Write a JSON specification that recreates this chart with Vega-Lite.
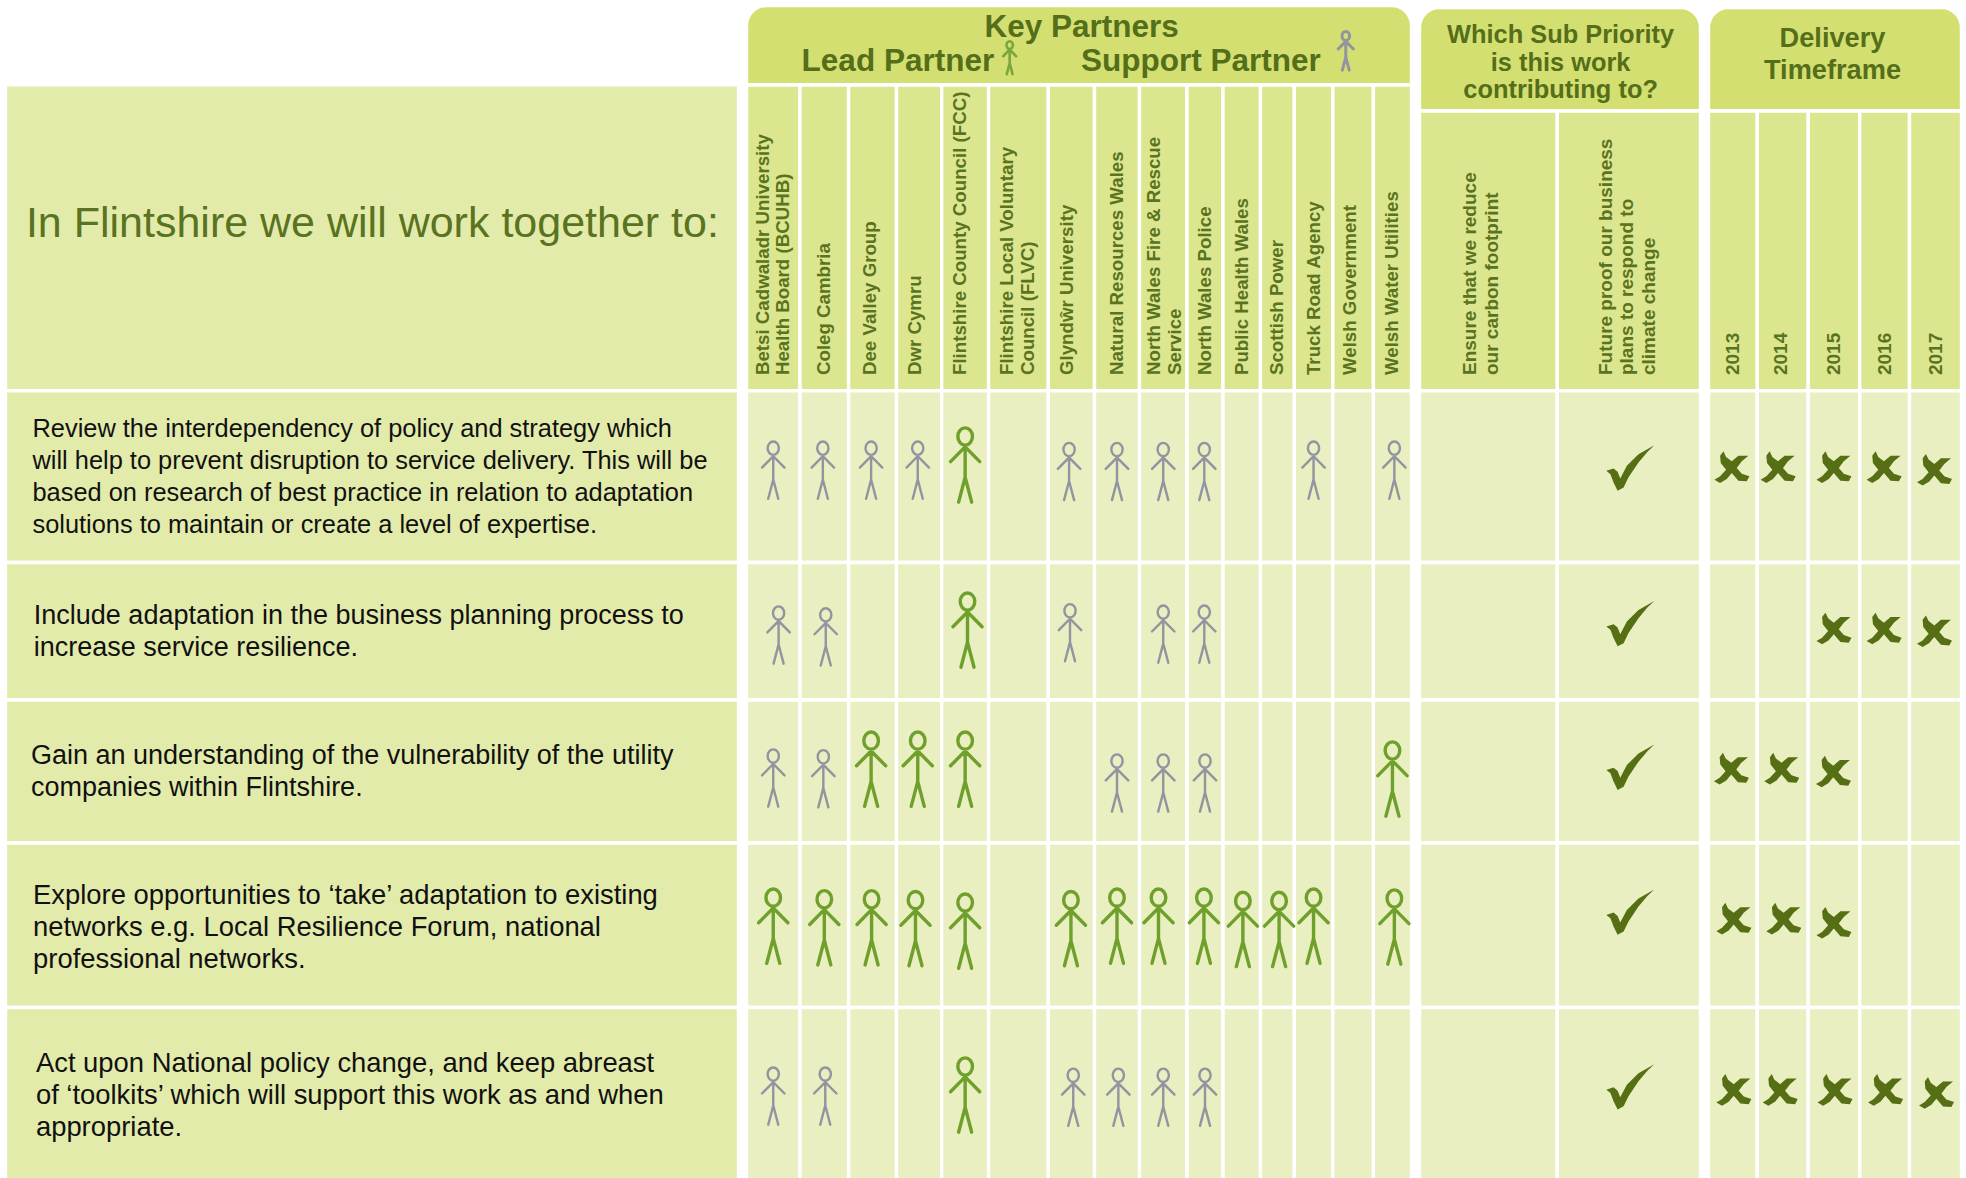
{
"$schema":"https://vega.github.io/schema/vega-lite/v6.json",
"width":1966,"height":1178,"padding":0,"autosize":{"type":"none"},
"background":"white","view":{"stroke":null},
"config":{"font":"Liberation Sans"},
"datasets":{
"cells":[
{"x":0,"x2":1,"y":2,"y2":4,"k":"left"},{"x":0,"x2":1,"y":4,"y2":5,"k":"left"},{"x":0,"x2":1,"y":5,"y2":6,"k":"left"},{"x":0,"x2":1,"y":6,"y2":7,"k":"left"},{"x":0,"x2":1,"y":7,"y2":8,"k":"left"},{"x":0,"x2":1,"y":8,"y2":9,"k":"left"},
{"x":2,"x2":3,"y":2,"y2":4,"k":"head"},{"x":3,"x2":4,"y":2,"y2":4,"k":"head"},{"x":4,"x2":5,"y":2,"y2":4,"k":"head"},{"x":5,"x2":6,"y":2,"y2":4,"k":"head"},{"x":6,"x2":7,"y":2,"y2":4,"k":"head"},{"x":7,"x2":8,"y":2,"y2":4,"k":"head"},{"x":8,"x2":9,"y":2,"y2":4,"k":"head"},{"x":9,"x2":10,"y":2,"y2":4,"k":"head"},{"x":10,"x2":11,"y":2,"y2":4,"k":"head"},{"x":11,"x2":12,"y":2,"y2":4,"k":"head"},{"x":12,"x2":13,"y":2,"y2":4,"k":"head"},{"x":13,"x2":14,"y":2,"y2":4,"k":"head"},{"x":14,"x2":15,"y":2,"y2":4,"k":"head"},{"x":15,"x2":16,"y":2,"y2":4,"k":"head"},{"x":16,"x2":17,"y":2,"y2":4,"k":"head"},
{"x":18,"x2":19,"y":3,"y2":4,"k":"head"},{"x":19,"x2":20,"y":3,"y2":4,"k":"head"},{"x":21,"x2":22,"y":3,"y2":4,"k":"head"},{"x":22,"x2":23,"y":3,"y2":4,"k":"head"},{"x":23,"x2":24,"y":3,"y2":4,"k":"head"},{"x":24,"x2":25,"y":3,"y2":4,"k":"head"},{"x":25,"x2":26,"y":3,"y2":4,"k":"head"},
{"x":2,"x2":3,"y":4,"y2":5,"k":"body"},{"x":3,"x2":4,"y":4,"y2":5,"k":"body"},{"x":4,"x2":5,"y":4,"y2":5,"k":"body"},{"x":5,"x2":6,"y":4,"y2":5,"k":"body"},{"x":6,"x2":7,"y":4,"y2":5,"k":"body"},{"x":7,"x2":8,"y":4,"y2":5,"k":"body"},{"x":8,"x2":9,"y":4,"y2":5,"k":"body"},{"x":9,"x2":10,"y":4,"y2":5,"k":"body"},{"x":10,"x2":11,"y":4,"y2":5,"k":"body"},{"x":11,"x2":12,"y":4,"y2":5,"k":"body"},{"x":12,"x2":13,"y":4,"y2":5,"k":"body"},{"x":13,"x2":14,"y":4,"y2":5,"k":"body"},{"x":14,"x2":15,"y":4,"y2":5,"k":"body"},{"x":15,"x2":16,"y":4,"y2":5,"k":"body"},{"x":16,"x2":17,"y":4,"y2":5,"k":"body"},{"x":18,"x2":19,"y":4,"y2":5,"k":"body"},{"x":19,"x2":20,"y":4,"y2":5,"k":"body"},{"x":21,"x2":22,"y":4,"y2":5,"k":"body"},{"x":22,"x2":23,"y":4,"y2":5,"k":"body"},{"x":23,"x2":24,"y":4,"y2":5,"k":"body"},{"x":24,"x2":25,"y":4,"y2":5,"k":"body"},{"x":25,"x2":26,"y":4,"y2":5,"k":"body"},
{"x":2,"x2":3,"y":5,"y2":6,"k":"body"},{"x":3,"x2":4,"y":5,"y2":6,"k":"body"},{"x":4,"x2":5,"y":5,"y2":6,"k":"body"},{"x":5,"x2":6,"y":5,"y2":6,"k":"body"},{"x":6,"x2":7,"y":5,"y2":6,"k":"body"},{"x":7,"x2":8,"y":5,"y2":6,"k":"body"},{"x":8,"x2":9,"y":5,"y2":6,"k":"body"},{"x":9,"x2":10,"y":5,"y2":6,"k":"body"},{"x":10,"x2":11,"y":5,"y2":6,"k":"body"},{"x":11,"x2":12,"y":5,"y2":6,"k":"body"},{"x":12,"x2":13,"y":5,"y2":6,"k":"body"},{"x":13,"x2":14,"y":5,"y2":6,"k":"body"},{"x":14,"x2":15,"y":5,"y2":6,"k":"body"},{"x":15,"x2":16,"y":5,"y2":6,"k":"body"},{"x":16,"x2":17,"y":5,"y2":6,"k":"body"},{"x":18,"x2":19,"y":5,"y2":6,"k":"body"},{"x":19,"x2":20,"y":5,"y2":6,"k":"body"},{"x":21,"x2":22,"y":5,"y2":6,"k":"body"},{"x":22,"x2":23,"y":5,"y2":6,"k":"body"},{"x":23,"x2":24,"y":5,"y2":6,"k":"body"},{"x":24,"x2":25,"y":5,"y2":6,"k":"body"},{"x":25,"x2":26,"y":5,"y2":6,"k":"body"},
{"x":2,"x2":3,"y":6,"y2":7,"k":"body"},{"x":3,"x2":4,"y":6,"y2":7,"k":"body"},{"x":4,"x2":5,"y":6,"y2":7,"k":"body"},{"x":5,"x2":6,"y":6,"y2":7,"k":"body"},{"x":6,"x2":7,"y":6,"y2":7,"k":"body"},{"x":7,"x2":8,"y":6,"y2":7,"k":"body"},{"x":8,"x2":9,"y":6,"y2":7,"k":"body"},{"x":9,"x2":10,"y":6,"y2":7,"k":"body"},{"x":10,"x2":11,"y":6,"y2":7,"k":"body"},{"x":11,"x2":12,"y":6,"y2":7,"k":"body"},{"x":12,"x2":13,"y":6,"y2":7,"k":"body"},{"x":13,"x2":14,"y":6,"y2":7,"k":"body"},{"x":14,"x2":15,"y":6,"y2":7,"k":"body"},{"x":15,"x2":16,"y":6,"y2":7,"k":"body"},{"x":16,"x2":17,"y":6,"y2":7,"k":"body"},{"x":18,"x2":19,"y":6,"y2":7,"k":"body"},{"x":19,"x2":20,"y":6,"y2":7,"k":"body"},{"x":21,"x2":22,"y":6,"y2":7,"k":"body"},{"x":22,"x2":23,"y":6,"y2":7,"k":"body"},{"x":23,"x2":24,"y":6,"y2":7,"k":"body"},{"x":24,"x2":25,"y":6,"y2":7,"k":"body"},{"x":25,"x2":26,"y":6,"y2":7,"k":"body"},
{"x":2,"x2":3,"y":7,"y2":8,"k":"body"},{"x":3,"x2":4,"y":7,"y2":8,"k":"body"},{"x":4,"x2":5,"y":7,"y2":8,"k":"body"},{"x":5,"x2":6,"y":7,"y2":8,"k":"body"},{"x":6,"x2":7,"y":7,"y2":8,"k":"body"},{"x":7,"x2":8,"y":7,"y2":8,"k":"body"},{"x":8,"x2":9,"y":7,"y2":8,"k":"body"},{"x":9,"x2":10,"y":7,"y2":8,"k":"body"},{"x":10,"x2":11,"y":7,"y2":8,"k":"body"},{"x":11,"x2":12,"y":7,"y2":8,"k":"body"},{"x":12,"x2":13,"y":7,"y2":8,"k":"body"},{"x":13,"x2":14,"y":7,"y2":8,"k":"body"},{"x":14,"x2":15,"y":7,"y2":8,"k":"body"},{"x":15,"x2":16,"y":7,"y2":8,"k":"body"},{"x":16,"x2":17,"y":7,"y2":8,"k":"body"},{"x":18,"x2":19,"y":7,"y2":8,"k":"body"},{"x":19,"x2":20,"y":7,"y2":8,"k":"body"},{"x":21,"x2":22,"y":7,"y2":8,"k":"body"},{"x":22,"x2":23,"y":7,"y2":8,"k":"body"},{"x":23,"x2":24,"y":7,"y2":8,"k":"body"},{"x":24,"x2":25,"y":7,"y2":8,"k":"body"},{"x":25,"x2":26,"y":7,"y2":8,"k":"body"},
{"x":2,"x2":3,"y":8,"y2":9,"k":"body"},{"x":3,"x2":4,"y":8,"y2":9,"k":"body"},{"x":4,"x2":5,"y":8,"y2":9,"k":"body"},{"x":5,"x2":6,"y":8,"y2":9,"k":"body"},{"x":6,"x2":7,"y":8,"y2":9,"k":"body"},{"x":7,"x2":8,"y":8,"y2":9,"k":"body"},{"x":8,"x2":9,"y":8,"y2":9,"k":"body"},{"x":9,"x2":10,"y":8,"y2":9,"k":"body"},{"x":10,"x2":11,"y":8,"y2":9,"k":"body"},{"x":11,"x2":12,"y":8,"y2":9,"k":"body"},{"x":12,"x2":13,"y":8,"y2":9,"k":"body"},{"x":13,"x2":14,"y":8,"y2":9,"k":"body"},{"x":14,"x2":15,"y":8,"y2":9,"k":"body"},{"x":15,"x2":16,"y":8,"y2":9,"k":"body"},{"x":16,"x2":17,"y":8,"y2":9,"k":"body"},{"x":18,"x2":19,"y":8,"y2":9,"k":"body"},{"x":19,"x2":20,"y":8,"y2":9,"k":"body"},{"x":21,"x2":22,"y":8,"y2":9,"k":"body"},{"x":22,"x2":23,"y":8,"y2":9,"k":"body"},{"x":23,"x2":24,"y":8,"y2":9,"k":"body"},{"x":24,"x2":25,"y":8,"y2":9,"k":"body"},{"x":25,"x2":26,"y":8,"y2":9,"k":"body"}
],
"groups":[
{"x":2,"x2":17,"y":0,"y2":2,"t":"Key Partners"},
{"x":18,"x2":20,"y":1,"y2":3,"t":"Which Sub Priority"},
{"x":21,"x2":26,"y":1,"y2":3,"t":"Delivery Timeframe"}
],
"figures":[
{"x":2.5,"y":4.462,"role":"support"},{"x":3.47,"y":4.462,"role":"support"},{"x":4.47,"y":4.462,"role":"support"},{"x":5.47,"y":4.462,"role":"support"},{"x":6.5,"y":4.432,"role":"lead"},{"x":8.45,"y":4.47,"role":"support"},{"x":9.5,"y":4.47,"role":"support"},{"x":10.5,"y":4.47,"role":"support"},{"x":11.48,"y":4.47,"role":"support"},{"x":14.5,"y":4.462,"role":"support"},{"x":16.55,"y":4.462,"role":"support"},
{"x":2.6,"y":5.527,"role":"support"},{"x":3.53,"y":5.54,"role":"support"},{"x":6.55,"y":5.491,"role":"lead"},{"x":8.47,"y":5.51,"role":"support"},{"x":10.5,"y":5.52,"role":"support"},{"x":11.48,"y":5.52,"role":"support"},
{"x":2.5,"y":6.545,"role":"support"},{"x":3.48,"y":6.55,"role":"support"},{"x":4.47,"y":6.483,"role":"lead"},{"x":5.47,"y":6.483,"role":"lead"},{"x":6.5,"y":6.483,"role":"lead"},{"x":9.5,"y":6.58,"role":"support"},{"x":10.5,"y":6.58,"role":"support"},{"x":11.5,"y":6.58,"role":"support"},{"x":16.5,"y":6.552,"role":"lead"},
{"x":2.5,"y":7.505,"role":"lead"},{"x":3.5,"y":7.515,"role":"lead"},{"x":4.48,"y":7.515,"role":"lead"},{"x":5.42,"y":7.52,"role":"lead"},{"x":6.5,"y":7.535,"role":"lead"},{"x":8.49,"y":7.52,"role":"lead"},{"x":9.5,"y":7.505,"role":"lead"},{"x":10.4,"y":7.505,"role":"lead"},{"x":11.47,"y":7.505,"role":"lead"},{"x":12.53,"y":7.525,"role":"lead"},{"x":13.55,"y":7.525,"role":"lead"},{"x":14.5,"y":7.505,"role":"lead"},{"x":16.55,"y":7.51,"role":"lead"},
{"x":2.5,"y":8.513,"role":"support"},{"x":3.52,"y":8.513,"role":"support"},{"x":6.5,"y":8.507,"role":"lead"},{"x":8.54,"y":8.52,"role":"support"},{"x":9.53,"y":8.52,"role":"support"},{"x":10.5,"y":8.52,"role":"support"},{"x":11.5,"y":8.52,"role":"support"}
],
"ticks":[
{"x":19.51,"y":4.45},{"x":19.51,"y":5.445},{"x":19.51,"y":6.47},{"x":19.51,"y":7.42},{"x":19.51,"y":8.46}
],
"crosses":[
{"x":21.48,"y":4.445},{"x":22.41,"y":4.445},{"x":23.5,"y":4.445},{"x":24.49,"y":4.445},{"x":25.48,"y":4.46},
{"x":23.5,"y":5.48},{"x":24.49,"y":5.48},{"x":25.48,"y":5.5},
{"x":21.47,"y":6.48},{"x":22.48,"y":6.48},{"x":23.49,"y":6.5},
{"x":21.52,"y":7.46},{"x":22.52,"y":7.46},{"x":23.5,"y":7.485},
{"x":21.52,"y":8.478},{"x":22.45,"y":8.478},{"x":23.52,"y":8.478},{"x":24.52,"y":8.478},{"x":25.52,"y":8.495}
],
"plabels":[
{"x":2.3,"y":3.944,"t":"Betsi Cadwaladr University\nHealth Board (BCUHB)"},{"x":3.5,"y":3.944,"t":"Coleg Cambria"},{"x":4.44,"y":3.944,"t":"Dee Valley Group"},{"x":5.42,"y":3.944,"t":"Dwr Cymru"},{"x":6.4,"y":3.944,"t":"Flintshire County Council (FCC)"},{"x":7.31,"y":3.944,"t":"Flintshire Local Voluntary\nCouncil (FLVC)"},{"x":8.4,"y":3.944,"t":"Glynd\u0175r University"},{"x":9.5,"y":3.944,"t":"Natural Resources Wales"},{"x":10.306,"y":3.944,"t":"North Wales Fire & Rescue\nService"},{"x":11.5,"y":3.944,"t":"North Wales Police"},{"x":12.5,"y":3.944,"t":"Public Health Wales"},{"x":13.5,"y":3.944,"t":"Scottish Power"},{"x":14.5,"y":3.944,"t":"Truck Road Agency"},{"x":15.42,"y":3.944,"t":"Welsh Government"},{"x":16.5,"y":3.944,"t":"Welsh Water Utilities"}
],
"slabels":[
{"x":18.369,"y":3.944,"t":"Ensure that we reduce\nour carbon footprint"},{"x":19.339,"y":3.944,"t":"Future proof our business\nplans to respond to\nclimate change"},
{"x":21.5,"y":3.944,"t":"2013"},{"x":22.47,"y":3.944,"t":"2014"},{"x":23.5,"y":3.944,"t":"2015"},{"x":24.5,"y":3.944,"t":"2016"},{"x":25.5,"y":3.944,"t":"2017"}
]
},
"encoding":{
"x":{"field":"x","type":"quantitative","axis":null,"scale":{"zero":false,"nice":false,
"domain":[0,1,2,3,4,5,6,7,8,9,10,11,12,13,14,15,16,17,18,19,20,21,22,23,24,25,26],
"range":[5.5,738.5,746.5,800,848.6,896.5,941.7,988.6,1048.3,1094.5,1139.5,1187,1223,1260.5,1294.3,1332.8,1373.4,1411.5,1419.5,1557.3,1700.5,1708.5,1757.3,1808.2,1859.7,1909.5,1961.5]}},
"y":{"field":"y","type":"quantitative","axis":null,"scale":{"zero":false,"nice":false,
"domain":[0,1,2,3,4,5,6,7,8,9],
"range":[5.5,7.5,84.7,110.7,390.7,562.5,700,843,1007.5,1180]}}
},
"layer":[
{"data":{"name":"cells"},"mark":{"type":"rect","stroke":"white","strokeWidth":3.4},
 "encoding":{"x2":{"field":"x2"},"y2":{"field":"y2"},
  "color":{"field":"k","type":"nominal","legend":null,"scale":{"domain":["left","head","body"],"range":["#e3ebab","#dbe68f","#e9efc1"]}}}},
{"data":{"name":"groups"},"mark":{"type":"rect","stroke":"white","strokeWidth":3.4,"fill":"#d3e071","cornerRadiusTopLeft":20,"cornerRadiusTopRight":20},
 "encoding":{"x2":{"field":"x2"},"y2":{"field":"y2"}}},
{"data":{"values":[{"x":8.723,"y":1.378,"t":"Key Partners"}]},
 "mark":{"type":"text","font":"Liberation Sans","fontWeight":"bold","fontSize":31.5,"fill":"#556e1a","align":"center","baseline":"alphabetic"},
 "encoding":{"text":{"field":"t"}}},
{"data":{"values":[{"x":3.033,"y":1.823,"t":"Lead Partner"},{"x":8.708,"y":1.823,"t":"Support Partner"}]},
 "mark":{"type":"text","font":"Liberation Sans","fontWeight":"bold","fontSize":31.5,"fill":"#556e1a","align":"left","baseline":"alphabetic"},
 "encoding":{"text":{"field":"t"}}},
{"data":{"values":[{"x":19.023,"y":1.46,"t":"Which Sub Priority"},{"x":19.023,"y":1.819,"t":"is this work"},{"x":19.023,"y":2.512,"t":"contributing to?"}]},
 "mark":{"type":"text","font":"Liberation Sans","fontWeight":"bold","fontSize":25.4,"fill":"#556e1a","align":"center","baseline":"alphabetic"},
 "encoding":{"text":{"field":"t"}}},
{"data":{"values":[{"x":23.472,"y":1.512,"t":"Delivery"},{"x":23.472,"y":1.927,"t":"Timeframe"}]},
 "mark":{"type":"text","font":"Liberation Sans","fontWeight":"bold","fontSize":27.2,"fill":"#556e1a","align":"center","baseline":"alphabetic"},
 "encoding":{"text":{"field":"t"}}},
{"data":{"values":[{"x":7.353,"y":1.65}]},
 "mark":{"type":"point","filled":false,"size":1156,"stroke":"#7ba63d","strokeWidth":2.6,"strokeCap":"round","opacity":1,
 "shape":"M0 -0.965A0.19 0.225 0 1 1 0 -0.515A0.19 0.225 0 1 1 0 -0.965ZM0 -0.5L0 0.32M-0.38 -0.085L0 -0.47L0.38 -0.085M-0.17 0.97L0 0.32L0.17 0.97"}},
{"data":{"values":[{"x":15.32,"y":1.56}]},
 "mark":{"type":"point","filled":false,"size":1600,"stroke":"#9294a0","strokeWidth":3,"strokeCap":"round","opacity":1,
 "shape":"M0 -0.965A0.19 0.225 0 1 1 0 -0.515A0.19 0.225 0 1 1 0 -0.965ZM0 -0.5L0 0.32M-0.38 -0.085L0 -0.47L0.38 -0.085M-0.17 0.97L0 0.32L0.17 0.97"}},
{"data":{"values":[{"x":0.0278,"y":3.45,"t":"In Flintshire we will work together to:"}]},
 "mark":{"type":"text","font":"Liberation Sans","fontSize":43,"fill":"#5a7320","align":"left","baseline":"alphabetic"},
 "encoding":{"text":{"field":"t"}}},
{"data":{"values":[{"x":0.0368,"y":4.268,"t":"Review the interdependency of policy and strategy which\nwill help to prevent disruption to service delivery. This will be\nbased on research of best practice in relation to adaptation\nsolutions to maintain or create a level of expertise."}]},
 "mark":{"type":"text","font":"Liberation Sans","fontSize":25.4,"fill":"#111111","align":"left","baseline":"alphabetic","lineBreak":"\n","lineHeight":32},
 "encoding":{"text":{"field":"t"}}},
{"data":{"values":[{"x":0.0386,"y":5.445,"t":"Include adaptation in the business planning process to\nincrease service resilience."},{"x":0.0348,"y":6.445,"t":"Gain an understanding of the vulnerability of the utility\ncompanies within Flintshire."}]},
 "mark":{"type":"text","font":"Liberation Sans","fontSize":27,"fill":"#111111","align":"left","baseline":"alphabetic","lineBreak":"\n","lineHeight":32},
 "encoding":{"text":{"field":"t"}}},
{"data":{"values":[{"x":0.0376,"y":7.37,"t":"Explore opportunities to \u2018take\u2019 adaptation to existing\nnetworks e.g. Local Resilience Forum, national\nprofessional networks."},{"x":0.0415,"y":8.372,"t":"Act upon National policy change, and keep abreast\nof \u2018toolkits\u2019 which will support this work as and when\nappropriate."}]},
 "mark":{"type":"text","font":"Liberation Sans","fontSize":27.4,"fill":"#111111","align":"left","baseline":"alphabetic","lineBreak":"\n","lineHeight":32},
 "encoding":{"text":{"field":"t"}}},
{"data":{"name":"plabels"},
 "mark":{"type":"text","font":"Liberation Sans","fontWeight":"bold","fontSize":18.7,"fill":"#5a7320","align":"left","baseline":"middle","angle":270,"lineBreak":"\n","lineHeight":20.8},
 "encoding":{"text":{"field":"t"}}},
{"data":{"name":"slabels"},
 "mark":{"type":"text","font":"Liberation Sans","fontWeight":"bold","fontSize":19,"fill":"#5a7320","align":"left","baseline":"middle","angle":270,"lineBreak":"\n","lineHeight":21.6},
 "encoding":{"text":{"field":"t"}}},
{"data":{"name":"figures"},"transform":[{"filter":"datum.role=='support'"}],
 "mark":{"type":"point","filled":false,"size":3500,"stroke":"#9294a0","strokeWidth":2.4,"strokeCap":"round","opacity":1,
 "shape":"M0 -0.965A0.19 0.225 0 1 1 0 -0.515A0.19 0.225 0 1 1 0 -0.965ZM0 -0.5L0 0.32M-0.38 -0.085L0 -0.47L0.38 -0.085M-0.17 0.97L0 0.32L0.17 0.97"}},
{"data":{"name":"figures"},"transform":[{"filter":"datum.role=='lead'"}],
 "mark":{"type":"point","filled":false,"size":5900,"stroke":"#6fa02b","strokeWidth":3.4,"strokeCap":"round","opacity":1,
 "shape":"M0 -0.965A0.19 0.225 0 1 1 0 -0.515A0.19 0.225 0 1 1 0 -0.965ZM0 -0.5L0 0.32M-0.38 -0.085L0 -0.47L0.38 -0.085M-0.17 0.97L0 0.32L0.17 0.97"}},
{"data":{"name":"ticks"},
 "mark":{"type":"point","filled":true,"size":2304,"fill":"#566f14","opacity":1,"strokeWidth":0,
 "shape":"M1 -0.945L0.34 -0.57L-0.145 -0.09L-0.42 0.435L-0.53 0.16L-0.7 0.02L-1 0.117L-0.83 0.255L-0.7 0.6L-0.53 0.945L-0.28 0.81L-0.076 0.39L0.34 -0.23L0.71 -0.67Z"}},
{"data":{"name":"crosses"},
 "mark":{"type":"point","filled":true,"size":1225,"fill":"#566f14","opacity":1,"strokeWidth":0,
 "shape":"M-0.486 -0.905L-0.333 -0.581L-0.01 -0.333L0.371 -0.657L0.943 -0.657L0.562 -0.333L0.276 0.048L0.562 0.371L1 0.524L0.848 0.81L0.371 0.771L-0.01 0.333L-0.295 0.676L-0.676 0.905L-1 0.714L-0.676 0.524L-0.333 0.143L-0.638 -0.238L-0.676 -0.657Z"}}
]
}
